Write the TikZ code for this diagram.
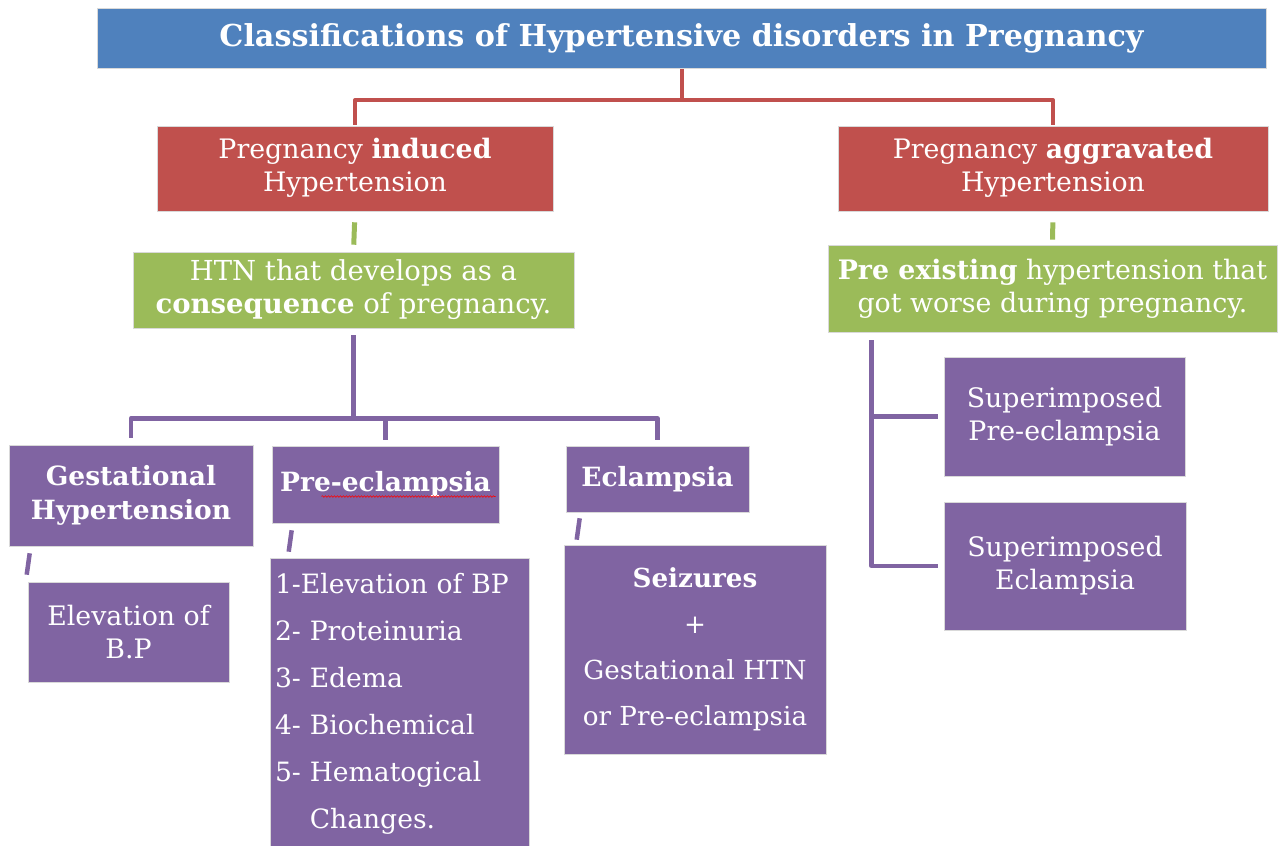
\documentclass[tikz,border=0pt]{standalone}
\usepackage{fontspec}
\setmainfont{DejaVu Serif}
\usetikzlibrary{backgrounds,decorations.pathmorphing}
\definecolor{tblue}{HTML}{4F81BD}
\definecolor{tred}{HTML}{C0504D}
\definecolor{tgreen}{HTML}{9BBB59}
\definecolor{tpurple}{HTML}{8064A2}
\begin{document}
\begin{tikzpicture}[x=1pt,y=-1pt,
  box/.style={rectangle, inner sep=0pt, text=white, align=center, draw=white!85!black, line width=0.6pt, font=\fontsize{26.8}{33}\selectfont},
  bluebox/.style={box, fill=tblue},
  redbox/.style={box, fill=tred},
  greenbox/.style={box, fill=tgreen},
  purplebox/.style={box, fill=tpurple},
  boldbox/.style={purplebox, font=\fontsize{26.5}{34}\selectfont\bfseries},
  redline/.style={draw=tred, line width=4pt, line join=round},
  greenline/.style={draw=tgreen, line width=5pt},
  purpleline/.style={draw=tpurple, line width=4.5pt, line join=round}
]
\useasboundingbox (0,0) rectangle (1278,846);

\node[bluebox, minimum width=1169pt, minimum height=60pt, font=\fontsize{30.2}{34}\selectfont\bfseries] (title) at (681.5,38) {\raisebox{-2pt}{Classifications of Hypertensive disorders in Pregnancy}};

\node[redbox, minimum width=396pt, minimum height=85pt] (pil) at (355,168.5) {\raisebox{-2pt}{\begin{tabular}{@{}c@{}}Pregnancy \textbf{induced}\\Hypertension\end{tabular}}};
\node[redbox, minimum width=430pt, minimum height=85pt] (pal) at (1053,168.5) {\raisebox{-2pt}{\begin{tabular}{@{}c@{}}Pregnancy \textbf{aggravated}\\Hypertension\end{tabular}}};

\node[greenbox, minimum width=441pt, minimum height=76pt, font=\fontsize{27.5}{33}\selectfont] (gil) at (353.5,290) {HTN that develops as a\\\textbf{consequence} of pregnancy.};
\node[greenbox, minimum width=449pt, minimum height=87pt] (gar) at (1052.5,288.5) {\textbf{Pre existing} hypertension that\\got worse during pregnancy.};

\node[boldbox, minimum width=244pt, minimum height=101pt] (gest) at (131,495.5) {Gestational\\Hypertension};
\node[boldbox, minimum width=227pt, minimum height=77pt] (pre) at (385.5,484.5) {Pre-eclampsia};
\node[boldbox, minimum width=183pt, minimum height=66pt] (ecl) at (657.5,479) {Eclampsia};

\node[purplebox, minimum width=201pt, minimum height=100pt] (elev) at (128.5,632) {Elevation of\\B.P};
\node[purplebox, text width=249pt, inner xsep=5pt, minimum height=292pt, align=left, font=\fontsize{26.6}{47}\selectfont] (list) at (399.5,704) {1-Elevation of BP\\2- Proteinuria\\3- Edema\\4- Biochemical\\5- Hematogical\\\phantom{5- }Changes.};
\node[purplebox, minimum width=262pt, minimum height=209pt, font=\fontsize{26.2}{46}\selectfont] (seiz) at (695,649.5) {\textbf{Seizures}\\+\\Gestational HTN\\or Pre-eclampsia};

\node[purplebox, minimum width=241pt, minimum height=119pt] (sp) at (1064.5,416.5) {Superimposed\\Pre-eclampsia};
\node[purplebox, minimum width=242pt, minimum height=128pt] (se) at (1065,566) {Superimposed\\Eclampsia};

\begin{scope}[on background layer]
  \path (title.south) ++(0,32) coordinate (rj);
  \draw[redline] (title.south) -- (rj);
  \draw[redline, shorten <=1pt, shorten >=1pt] (pil.north) |- (rj) -| (pal.north);

  \draw[greenline, shorten <=11pt, shorten >=7pt] (pil.south) -- (gil.north);
  \draw[greenline, shorten <=11pt, shorten >=5pt] (pal.south) -- (gar.north);

  \path (gil.south) ++(0,90) coordinate (pj);
  \draw[purpleline, shorten <=7pt] (gil.south) -- (pj);
  \draw[purpleline, shorten <=7pt, shorten >=6pt] (gest.north) |- (pj) -| (ecl.north);
  \draw[purpleline, shorten >=6pt] (pj -| pre.north) -- (pre.north);

  \draw[purpleline] ([xshift=21pt,yshift=-7pt]gest.south west) -- ([xshift=-1pt,yshift=7pt]elev.north west);
  \draw[purpleline] ([xshift=20pt,yshift=-7pt]pre.south west) -- ([xshift=19pt,yshift=6pt]list.north west);
  \draw[purpleline] ([xshift=14pt,yshift=-6pt]ecl.south west) -- ([xshift=13pt,yshift=5pt]seiz.north west);

  \path (gar.south west) ++(44,8) coordinate (rt);
  \draw[purpleline] (rt) |- ([xshift=-6pt]sp.west);
  \draw[purpleline] (rt) |- ([xshift=-6pt]se.west);
\end{scope}

\draw[red, line width=0.6pt, decorate, decoration={snake, amplitude=0.8pt, segment length=3pt}]
  ([xshift=-64pt,yshift=-12pt]pre.center) -- ([xshift=110pt,yshift=-12pt]pre.center);
\end{tikzpicture}
\end{document}
